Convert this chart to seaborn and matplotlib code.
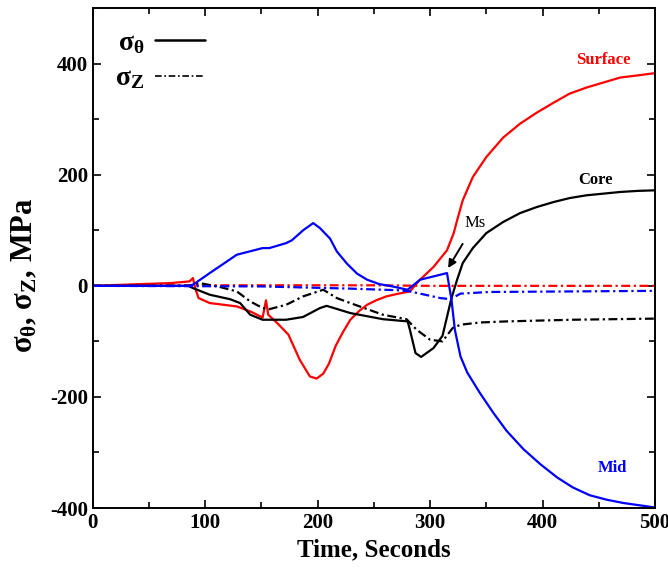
import numpy as np
import pandas as pd
import matplotlib
matplotlib.use("Agg")
import matplotlib.pyplot as plt
from matplotlib.lines import Line2D
import seaborn as sns


# DATI

t_surf_th = [0, 40, 69, 86, 89, 91, 94, 104, 128, 140, 151, 154, 156, 164, 174, 184, 193, 199, 205, 210, 216,
             222, 229, 237, 244, 252, 261, 272, 282, 291, 303, 315, 321, 324, 329, 338, 350, 365, 380, 395,
             410, 424, 439, 454, 469, 485, 500]
v_surf_th = [0, 3, 5, 8, 14, -4, -22, -31, -37, -46, -57, -26, -52, -67, -88, -133, -163, -167, -158, -140, -108,
             -85, -61, -45, -34, -26, -19, -14, -10, 11, 34, 64, 95, 118, 154, 196, 232, 267, 292, 312,
             330, 346, 357, 366, 375, 379, 383]

t_core_th = [0, 85, 89, 104, 122, 131, 140, 151, 172, 187, 202, 208, 229, 258, 280, 282, 287, 292, 303,
             311, 319, 324, 329, 338, 350, 365, 380, 395, 410, 424, 439, 454, 469, 485, 500]
v_core_th = [0, 0, -4, -16, -24, -31, -52, -61, -61, -56, -40, -36, -49, -60, -64, -79, -121, -128, -112,
             -90, -22, 11, 41, 68, 95, 115, 131, 142, 151, 158, 163, 166, 169, 171, 172]

t_mid_th = [0, 85, 89, 104, 128, 151, 157, 172, 177, 187, 196, 202, 211, 217, 226, 235, 244, 255, 264, 280,
            291, 315, 319, 322, 327, 333, 344, 356, 368, 383, 398, 413, 427, 442, 457, 472, 500]
v_mid_th = [0, 0, 2, 23, 56, 68, 68, 77, 82, 100, 113, 104, 85, 62, 40, 22, 11, 3, 0, -7,
            11, 23, -25, -79, -127, -156, -192, -228, -261, -294, -321, -345, -363, -377, -385, -391, -399]

t_surf_z = [0, 90, 150, 250, 300, 400, 500]
v_surf_z = [0, 1, 1, 1, 0, 0, 0]

t_core_z = [0, 85, 95, 113, 128, 140, 151, 157, 172, 187, 205, 217, 229, 258, 279, 288, 300, 311, 320,
            327, 344, 368, 427, 500]
v_core_z = [0, 0, 5, -2, -10, -28, -40, -42, -34, -19, -7, -22, -31, -52, -60, -79, -97, -100, -76,
            -70, -66, -64, -61, -59]

t_mid_z = [0, 150, 229, 273, 282, 309, 318, 327, 353, 430, 500]
v_mid_z = [0, -1, -5, -8, -10, -22, -24, -14, -11, -10, -9]

serie = [
    ("Surface", "theta", t_surf_th, v_surf_th),
    ("Core", "theta", t_core_th, v_core_th),
    ("Mid", "theta", t_mid_th, v_mid_th),
    ("Surface", "z", t_surf_z, v_surf_z),
    ("Core", "z", t_core_z, v_core_z),
    ("Mid", "z", t_mid_z, v_mid_z),
]

righe = []
for posizione, comp, tt, vv in serie:
    for a, b in zip(tt, vv):
        righe.append({"tempo": a, "sforzo": b, "posizione": posizione, "comp": comp})
df = pd.DataFrame(righe)

colori = {"Surface": "#ff0000", "Core": "#000000", "Mid": "#0000ff"}
tratti = {"theta": "", "z": (4, 1.6, 1, 1.6)}


# STILE

sns.set_style("ticks")
plt.rcParams["font.family"] = ["Liberation Serif", "DejaVu Serif"]
plt.rcParams["font.weight"] = "bold"
plt.rcParams["mathtext.fontset"] = "custom"
plt.rcParams["mathtext.rm"] = "Liberation Serif:bold"
plt.rcParams["mathtext.bf"] = "Liberation Serif:bold"
plt.rcParams["mathtext.it"] = "Liberation Serif:bold"
plt.rcParams["axes.unicode_minus"] = False
plt.rcParams["xtick.direction"] = "in"
plt.rcParams["ytick.direction"] = "in"
plt.rcParams["xtick.color"] = "black"
plt.rcParams["ytick.color"] = "black"
plt.rcParams["axes.edgecolor"] = "black"
plt.rcParams["text.color"] = "black"
plt.rcParams["axes.labelcolor"] = "black"

fig = plt.figure(figsize=(6.68, 5.81), dpi=100)
ax = fig.add_axes([0.139, 0.1256, 0.8415, 0.8604])

sns.lineplot(data=df, x="tempo", y="sforzo", hue="posizione", style="comp",
             palette=colori, dashes=tratti, estimator=None, sort=False,
             linewidth=1.6, legend=False, ax=ax)

ax.set_xlim(0, 500)
ax.set_ylim(-400, 500)
ax.set_xticks([0, 100, 200, 300, 400, 500])
ax.set_xticks(np.arange(0, 501, 50), minor=True)
ax.set_yticks([-400, -200, 0, 200, 400])
ax.set_yticks(np.arange(-400, 501, 100), minor=True)
ax.tick_params(which="both", top=True, right=True, width=1.2, labelsize=15)
ax.tick_params(which="major", length=6)
ax.tick_params(which="minor", length=4, labelright=False, labeltop=False)
for s in ax.spines.values():
    s.set_linewidth(1.4)
for lab in ax.get_xticklabels() + ax.get_yticklabels():
    lab.set_fontweight("bold")

ax.set_xlabel("Time, Seconds", fontsize=18, fontweight="bold", labelpad=4)
ax.set_ylabel(r"σ$_\mathrm{θ}$, σ$_\mathrm{Z}$, MPa", fontsize=22, fontweight="bold")
ax.yaxis.set_label_coords(-0.095, 0.466)

# etichette curve
ax.text(454, 407, "Surface", color="#ff0000", fontsize=12, fontweight="bold", ha="center", va="center")
ax.text(447, 190, "Core", color="black", fontsize=12, fontweight="bold", ha="center", va="center")
ax.text(462, -328, "Mid", color="#0000ff", fontsize=12, fontweight="bold", ha="center", va="center")
ax.annotate("Ms", xy=(316, 32), xytext=(340, 113), fontsize=12, fontweight="normal",
            ha="center", va="center",
            arrowprops=dict(arrowstyle="-|>", color="black", lw=1.4, shrinkA=8, shrinkB=0))

# legenda
maniglie = [Line2D([], [], color="black", lw=1.8),
            Line2D([], [], color="black", lw=1.2, dashes=(4, 1.6, 1, 1.6))]
ax.legend(maniglie, [r"σ$_\mathrm{θ}$", r"σ$_\mathrm{Z}$"],
          loc="upper left", bbox_to_anchor=(-0.005, 1.005), frameon=False, markerfirst=False,
          handlelength=1.8, fontsize=20, labelspacing=0.35, handletextpad=0.4)

fig.savefig("out.png", dpi=100)
plt.close()
